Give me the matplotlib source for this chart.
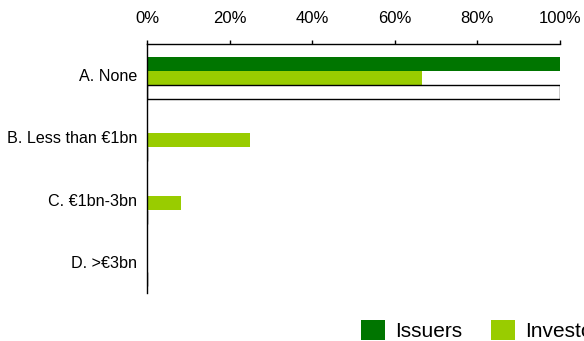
import numpy as np
import matplotlib
matplotlib.use('Agg')
import matplotlib.pyplot as plt
from matplotlib.ticker import FuncFormatter

plt.rcParams['font.family'] = ['Liberation Sans', 'DejaVu Sans']

categories = ['A. None', 'B. Less than \u20ac1bn', 'C. \u20ac1bn-3bn', 'D. >\u20ac3bn']
issuers = [100.0, 0.0, 0.0, 0.0]
investors = [66.7, 25.0, 8.3, 0.0]
total = [100.0, 0.0, 0.0, 0.0]
series_names = ['Issuers', 'Investors', 'Total']

f = plt.figure(figsize=(5.84, 3.41), dpi=100)
ax = f.add_axes([147 / 584., 1 - 293 / 341., 413 / 584., 249 / 341.])

y = np.arange(len(categories))
h = 0.225
off = 0.047
ax.barh(y - h + off, issuers, height=h, color='#007500', label=series_names[0])
ax.barh(y + off, investors, height=h, color='#99cc00', label=series_names[1])
ax.barh(y + h + off, total, height=h, color='white', edgecolor='black',
        linewidth=1.0, label=series_names[2])

ax.set_xlim(0, 100)
ax.set_ylim(len(categories) - 0.5, -0.5)
ax.set_yticks(y)
ax.set_yticklabels(categories, fontsize=11.6)
ax.xaxis.tick_top()
ax.set_xticks(np.arange(0, 101, 20))
ax.xaxis.set_major_formatter(FuncFormatter(lambda v, p: '%d%%' % v))
ax.tick_params(axis='x', direction='out', length=3, width=1, labelsize=12, pad=10)
ax.tick_params(axis='y', length=0, pad=7)
ax.spines['right'].set_visible(False)
ax.spines['bottom'].set_visible(False)
for s in ('left', 'top'):
    ax.spines[s].set_linewidth(1.0)

f.legend(loc='lower left', bbox_to_anchor=(361 / 584., 0.0), ncol=3,
         frameon=False, fontsize=15, handlelength=1.15, handleheight=1.06,
         handletextpad=0.48, columnspacing=1.4, borderpad=0, borderaxespad=0)

f.savefig('out.png', dpi=100)
